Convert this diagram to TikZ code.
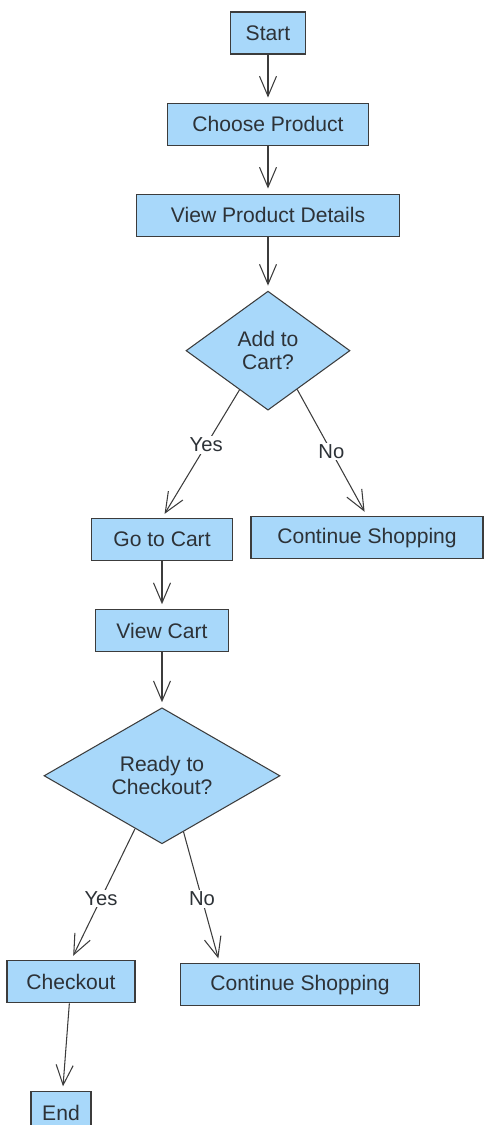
\documentclass[tikz,border=0pt]{standalone}
\usepackage{fontspec}
\setmainfont{Liberation Sans}
\usetikzlibrary{positioning, shapes.geometric, arrows.meta}
\definecolor{boxblue}{RGB}{168,216,250}
\definecolor{edgegray}{RGB}{60,60,60}
\definecolor{txtgray}{RGB}{45,50,55}

\begin{document}
\begin{tikzpicture}[
     node distance = 9.6mm and 3mm,
        box/.style = {rectangle, draw=edgegray, fill=boxblue, text=txtgray,
                     line width=0.6pt, minimum width=#1, minimum height=8.4mm,
                     font=\fontsize{12}{13}\selectfont},
   decision/.style 2 args = {diamond, draw=edgegray, fill=boxblue, text=txtgray,
                     line width=0.6pt, align=center, inner sep=0pt, aspect=1.4,
                     minimum width=#1, minimum height=#2,
                     font=\fontsize{12}{13}\selectfont},
        arr/.style = {-{Straight Barb[length=4mm,width=3.4mm]}, draw=edgegray,
                     line width=0.6pt, shorten >=1mm},
        ans/.style = {fill=white, inner sep=1pt, text=txtgray,
                     font=\fontsize{11.5}{12}\selectfont}
                        ]
\useasboundingbox (-5.36,0.66) rectangle (4.34,-21.84);
\node (start) [box=15mm] {Start};
\node (choose) [box=40.2mm, below=of start] {Choose Product};
\node (details) [box=52.6mm, below=of choose] {View Product Details};
\node (addcart) [decision={32.8mm}{23.8mm}, below=10.8mm of details] {Add to\\Cart?};
\node (gocart) [box=28.2mm] at ([xshift=-21.2mm, yshift=-37.8mm]addcart) {Go to Cart};
\node (shop1) [box=46.4mm] at ([xshift=19.8mm, yshift=-37.4mm]addcart) {Continue Shopping};
\node (viewcart) [box=26.6mm, below=of gocart] {View Cart};
\node (ready) [decision={47.2mm}{27.2mm}, below=11mm of viewcart] {Ready to\\Checkout?};
\node (checkout) [box=25.6mm] at ([xshift=-18.2mm, yshift=-41.2mm]ready) {Checkout};
\node (shop2) [box=47.8mm] at ([xshift=27.6mm, yshift=-41.8mm]ready) {Continue Shopping};
\node (finish) [box=12mm, below=17.6mm of checkout, xshift=-2mm] {End};
\draw[arr] (start) -- (choose);
\draw[arr] (choose) -- (details);
\draw[arr] (details) -- (addcart);
\draw[arr] (addcart.234) -- node[ans, pos=0.43] {Yes} (gocart.north);
\draw[arr] (addcart.307) -- node[ans, pos=0.49] {No} (shop1.north);
\draw[arr] (gocart) -- (viewcart);
\draw[arr] (viewcart) -- (ready);
\draw[arr] (ready.243) -- node[ans, pos=0.53] {Yes} (checkout.north);
\draw[arr] (ready.291) -- node[ans, pos=0.51] {No} (shop2.165);
\draw[arr] (checkout) -- (finish);
\end{tikzpicture}
\end{document}
